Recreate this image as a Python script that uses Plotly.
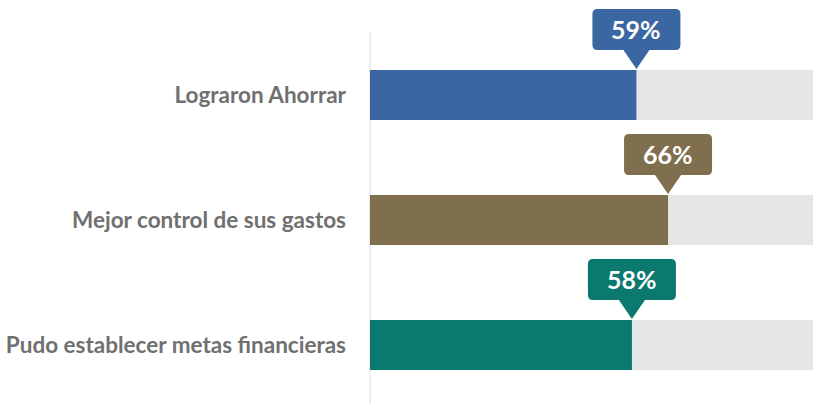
import plotly.graph_objects as go

categories = ["Lograron Ahorrar", "Mejor control de sus gastos", "Pudo establecer metas financieras"]
values = [59, 66, 58]
labels = ["59%", "66%", "58%"]
colors = ["#3A66A2", "#7F6F4E", "#0B796D"]
full = [100, 100, 100]

pos = list(range(len(categories)))
bw = 0.4

fig = go.Figure()
fig.add_trace(go.Bar(y=pos, x=full, orientation="h", width=bw,
                     marker=dict(color="#E6E6E6", line=dict(width=0)),
                     hoverinfo="skip", showlegend=False))
fig.add_trace(go.Bar(y=pos, x=values, orientation="h", width=bw,
                     marker=dict(color=colors, line=dict(width=0)),
                     showlegend=False))

shapes = [dict(type="line", xref="paper", yref="paper", x0=0, x1=0, y0=0, y1=(403 - 32) / 403,
               line=dict(color="#E6E6E6", width=1.5), layer="below")]
annotations = []
for i, (v, c, t) in enumerate(zip(values, colors, labels)):
    r = 5
    hw = 44
    bot = 20
    top = 61
    tw = 13
    path = (f"M 0 1 L {-tw} {bot} L {-hw + r} {bot} Q {-hw} {bot} {-hw} {bot + r} "
            f"L {-hw} {top - r} Q {-hw} {top} {-hw + r} {top} L {hw - r} {top} "
            f"Q {hw} {top} {hw} {top - r} L {hw} {bot + r} Q {hw} {bot} {hw - r} {bot} "
            f"L {tw} {bot} Z")
    shapes.append(dict(type="path", xref="x", yref="y", xsizemode="pixel", ysizemode="pixel",
                       xanchor=v, yanchor=i - bw / 2, path=path,
                       fillcolor=c, line=dict(width=0), layer="above"))
    annotations.append(dict(x=v, y=i - bw / 2, xref="x", yref="y", text=f"<b>{t}</b>",
                            showarrow=False, yshift=41,
                            font=dict(family="Lato", size=25, color="white")))

fig.update_layout(
    width=813, height=403,
    margin=dict(l=370, r=0, t=0, b=0),
    paper_bgcolor="white", plot_bgcolor="white",
    barmode="overlay",
    shapes=shapes, annotations=annotations,
    xaxis=dict(range=[0, 98.1], visible=False, fixedrange=True),
    yaxis=dict(range=[2.464, -0.76], tickvals=pos, ticktext=[f"<b>{c}</b>" for c in categories],
               tickfont=dict(family="Lato", size=22.5, color="#707070"),
               showgrid=False, zeroline=False, showline=False, fixedrange=True,
               ticks="", ticklabelstandoff=23),
    font=dict(family="Lato"),
)

fig.write_html("out.html", config={"displayModeBar": False})
with open("out.html", "r", encoding="utf-8") as f:
    html = f.read()
html = html.replace("<body>", '<body style="margin:0;padding:0;">', 1)
with open("out.html", "w", encoding="utf-8") as f:
    f.write(html)
